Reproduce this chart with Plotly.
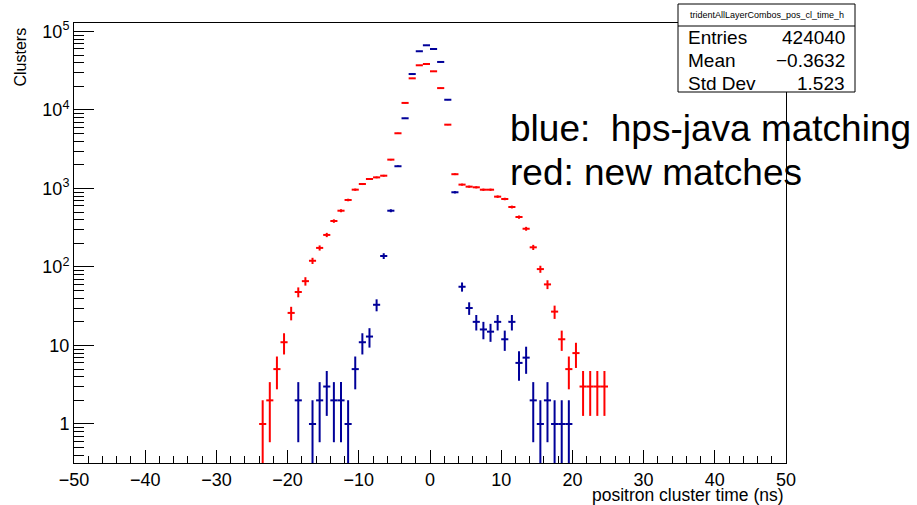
import numpy as np
import plotly.graph_objects as go

# ---------------- data ----------------
red_centers = [c + 0.5 for c in range(-24, 25)]
red_counts = [1, 2, 5, 11, 26, 48, 66, 120, 175, 256, 385, 521, 714, 966, 1140,
              1320, 1385, 1455, 2330, 5050, 12300, 25300, 37100, 38500,
              31100, 19000, 6500, 1520, 1120, 1055, 1035, 965, 965, 787, 735,
              581, 433, 307, 178, 94, 60, 27, 12, 5, 8, 3, 3, 3, 3]

blue_centers = [c + 0.5 for c in range(-19, 20)]
blue_counts = [2, 0, 1, 2, 3, 2, 2, 1, 5, 11, 13, 33, 138, 521, 1920, 7840,
               28700, 56000, 66700, 59800, 40900, 13500, 895, 56, 30, 20, 16,
               15, 20, 12, 20, 6, 7, 2, 1, 2, 1, 1, 1]

x_tick_vals = [-50, -40, -30, -20, -10, 0, 10, 20, 30, 40, 50]
y_tick_vals = [1, 10, 100, 1000, 10000, 100000]
y_tick_text = ["1", "10", "10<sup>2</sup>", "10<sup>3</sup>", "10<sup>4</sup>", "10<sup>5</sup>"]

stats_title = "tridentAllLayerCombos_pos_cl_time_h"
stats_labels = ["Entries", "Mean", "Std Dev"]
stats_values = ["424040", "\u22120.3632", "1.523"]
note_lines = ["blue:\u00a0 hps-java matching", "red: new matches"]

# ---------------- layout geometry ----------------
W, H = 917, 505
L, R, T, B = 74, 786, 23, 463
FONT = "Liberation Sans, Arial, Helvetica, sans-serif"


def px(x):
    return (x - L) / (R - L)


def py(y):
    return (B - y) / (B - T)


def hist_trace(centers, counts, color):
    c = [x for x, n in zip(centers, counts) if n > 0]
    n = [v for v in counts if v > 0]
    return go.Scatter(
        x=c, y=n, mode="markers",
        marker=dict(size=1, color=color),
        error_x=dict(type="constant", value=0.5, width=0, thickness=2, color=color),
        error_y=dict(type="data", array=list(np.sqrt(n)), width=0, thickness=2, color=color),
        showlegend=False, hoverinfo="skip", cliponaxis=True,
    )


fig = go.Figure()
fig.add_trace(hist_trace(blue_centers, blue_counts, "#000099"))
fig.add_trace(hist_trace(red_centers, red_counts, "#ff0000"))

minor_y = [k * 10.0 ** e for e in range(-1, 6) for k in range(2, 10)]

fig.update_layout(
    width=W, height=H,
    margin=dict(l=L, r=W - R, t=T, b=H - B, pad=0),
    paper_bgcolor="white", plot_bgcolor="white",
    font=dict(family=FONT, size=18, color="black"),
    showlegend=False,
    xaxis=dict(
        range=[-50, 50], tickmode="array", tickvals=x_tick_vals,
        ticks="inside", ticklen=13, tickwidth=1, tickcolor="black",
        showline=True, linecolor="black", linewidth=1, mirror=True,
        showgrid=False, zeroline=False,
        tickfont=dict(size=18),
        minor=dict(dtick=2, tick0=0, ticks="inside", ticklen=7, tickcolor="black", tickwidth=1, showgrid=False),
    ),
    yaxis=dict(
        type="log", range=[-0.497, 5.108],
        tickmode="array", tickvals=y_tick_vals, ticktext=y_tick_text,
        ticks="inside", ticklen=20, tickwidth=1, tickcolor="black",
        showline=True, linecolor="black", linewidth=1, mirror=True,
        showgrid=False, zeroline=False,
        tickfont=dict(size=18),
        minor=dict(tickmode="array", tickvals=minor_y, ticks="inside", ticklen=10,
                   tickcolor="black", tickwidth=1, showgrid=False),
    ),
)

# axis titles (ROOT style, aligned to the axis ends)
fig.add_annotation(text="Clusters", xref="paper", yref="paper", x=px(20), y=py(26),
                   xanchor="center", yanchor="top", textangle=-90, showarrow=False,
                   font=dict(size=16))
fig.add_annotation(text="positron cluster time (ns)", xref="paper", yref="paper",
                   x=px(786), y=py(495), xanchor="right", yanchor="middle",
                   showarrow=False, font=dict(size=17.5))

# stats box
bx0, bx1, by0, by1, bsep = 678, 855, 4, 92, 26
fig.add_shape(type="rect", xref="paper", yref="paper",
              x0=px(bx0), x1=px(bx1), y0=py(by1), y1=py(by0),
              line=dict(color="black", width=1), fillcolor="white", layer="above")
fig.add_shape(type="line", xref="paper", yref="paper",
              x0=px(bx0), x1=px(bx1), y0=py(bsep), y1=py(bsep),
              line=dict(color="black", width=1), layer="above")
fig.add_annotation(text=stats_title, xref="paper", yref="paper",
                   x=px((bx0 + bx1) / 2), y=py(15), xanchor="center", yanchor="middle",
                   showarrow=False, font=dict(size=9))
row_y = [38, 61, 83]
for lab, val, yy in zip(stats_labels, stats_values, row_y):
    fig.add_annotation(text=lab, xref="paper", yref="paper", x=px(686), y=py(yy),
                       xanchor="left", yanchor="middle", showarrow=False, font=dict(size=19))
    fig.add_annotation(text=val, xref="paper", yref="paper", x=px(847), y=py(yy),
                       xanchor="right", yanchor="middle", showarrow=False, font=dict(size=19))

# free text
for line, yy in zip(note_lines, [128, 172]):
    fig.add_annotation(text=line, xref="paper", yref="paper", x=px(508), y=py(yy),
                       xanchor="left", yanchor="middle", showarrow=False,
                       font=dict(size=37, color="black"))

fig.write_html("out.html")
